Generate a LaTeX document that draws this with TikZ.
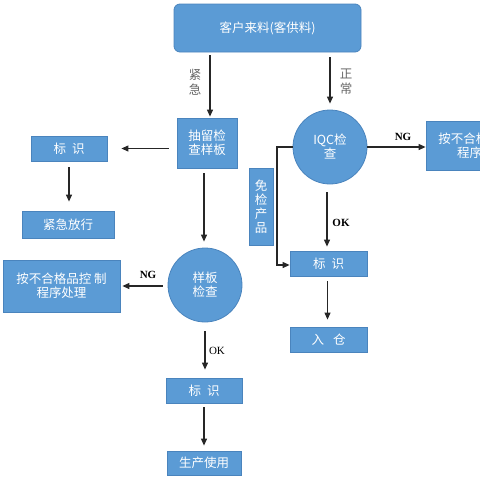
\documentclass[tikz,border=0pt]{standalone}
\usepackage{fontspec}
\setmainfont{Liberation Serif}
\newfontfamily\cjk{Noto Sans CJK SC}
\usetikzlibrary{arrows.meta}
\definecolor{boxblue}{HTML}{5B9BD5}
\definecolor{boxedge}{HTML}{4A84BD}
\definecolor{arrowc}{HTML}{262626}
\begin{document}
\begin{tikzpicture}[x=1pt,y=-1pt,
  box/.style={draw=boxedge,line width=0.8pt,fill=boxblue,text=white,inner sep=0pt,align=center,
    font=\cjk\fontsize{12.5}{14}\selectfont},
  circ/.style={circle,draw=boxedge,line width=0.8pt,fill=boxblue,text=white,inner sep=0pt,align=center,
    minimum size=74pt,font=\cjk\fontsize{12.5}{14}\selectfont},
  arr/.style={draw=arrowc,line width=1.1pt,-{Triangle[length=7pt,width=6pt]}},
  lbl/.style={font=\bfseries\fontsize{11}{12}\selectfont,text=black},
  vlbl/.style={font=\cjk\fontsize{12.5}{15}\selectfont,text=black!60,align=center}]
\useasboundingbox (0,0) rectangle (480,480);
\clip (0,0) rectangle (480,480);
% nodes
\node[box,rounded corners=6pt,minimum width=187pt,minimum height=48pt,font=\cjk\fontsize{12.5}{14}\selectfont] (top) at (267.5,28) {客户来料(客供料)};
\node[box,minimum width=60pt,minimum height=50pt] (cl) at (207,143) {抽留检\\查样板};
\node[circ] (iqc) at (330,147) {IQC检\\查};
\node[box,minimum width=112pt,minimum height=49pt] (ngR) at (482,145.5) {按不合格品控制\\程序处理};
\node[box,minimum width=24pt,minimum height=77pt] (mj) at (261,206.5) {免\\检\\产\\品};
\node[box,minimum width=77pt,minimum height=25pt] (bsR) at (328.5,263.5) {标\hspace{6pt}识};
\node[box,minimum width=77pt,minimum height=25pt] (rc) at (328.5,339.5) {入\hspace{9pt}仓};
\node[box,minimum width=76pt,minimum height=25pt] (bsL) at (69,148.5) {标\hspace{6pt}识};
\node[box,minimum width=92pt,minimum height=27pt] (jj) at (68,224.5) {紧急放行};
\node[box,minimum width=117pt,minimum height=52pt] (ngL) at (61.5,286) {按不合格品控\ 制\\程序处理};
\node[circ] (yb) at (205,285) {样板\\检查};
\node[box,minimum width=76pt,minimum height=25pt] (bsB) at (204,390.5) {标\hspace{6pt}识};
\node[box,minimum width=74pt,minimum height=24pt] (sc) at (204,463) {生产使用};
% coordinates
\coordinate (elbow1) at (277,147);
\coordinate (elbow2) at (277,265);
% arrows
\draw[arr,shorten <=3pt,shorten >=1pt] ([xshift=3pt]top.south -| cl.north) -- ([xshift=3pt]cl.north);
\draw[arr,shorten <=5pt,shorten >=6pt] (top.south -| iqc.north) -- (iqc.north);
\draw[arr,shorten <=8pt,shorten >=14pt] (cl.west |- bsL.east) -- (bsL.east);
\draw[arr,shorten <=6pt,shorten >=9pt] (bsL.south) -- (bsL.south |- jj.north);
\draw[arr,shorten <=5pt,shorten >=6pt] ([xshift=-3pt]cl.south) -- ([xshift=-3pt]cl.south |- yb.north);
\draw[arr,shorten <=5pt,shorten >=2pt] ([yshift=-1pt]yb.west) -- ([yshift=-1pt]yb.west -| ngL.east);
\draw[arr,shorten <=9pt,shorten >=8pt] (yb.south) -- (yb.south |- bsB.north);
\draw[arr,shorten <=4pt,shorten >=5pt] (bsB.south) -- (sc.north);
\draw[arr] (iqc.east) -- (iqc.east -| ngR.west);
\draw[arr,shorten <=8pt,shorten >=4pt] ([xshift=-3pt]iqc.south) -- ([xshift=-3pt]iqc.south |- bsR.north);
\draw[arr,shorten <=5pt,shorten >=7pt] ([xshift=-1pt]bsR.south) -- ([xshift=-1pt]rc.north);
\draw[arr] (iqc.west) -- (elbow1) -- (elbow2) -- (elbow2 -| bsR.west);
% labels
\node[vlbl] (lj) at (195,82) {紧\\急};
\node[vlbl] (lz) at (346,82) {正\\常};
\node[lbl] (ng1) at (403,137) {NG};
\node[lbl] (ng2) at (148,275) {NG};
\node[lbl] (ok1) at (341,223) {OK};
\node[font=\fontsize{11}{12}\selectfont] (ok2) at (217,351) {OK};
\end{tikzpicture}
\end{document}
